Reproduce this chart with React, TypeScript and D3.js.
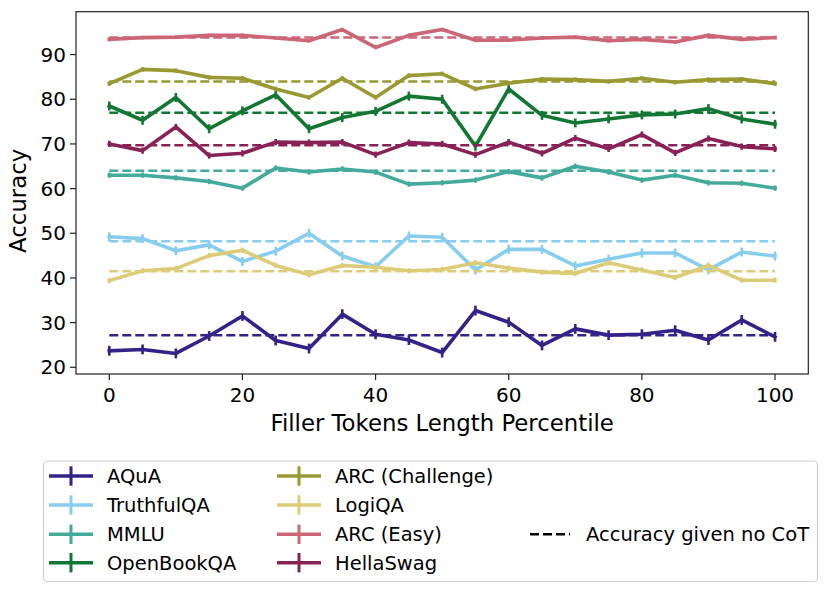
import React from 'react';
import * as d3 from 'd3';

// filler token length percentiles (x axis)
const percentiles = [0, 5, 10, 15, 20, 25, 30, 35, 40, 45, 50, 55, 60, 65, 70, 75, 80, 85, 90, 95, 100];

const aqua = [23.7, 24.0, 23.1, 27.0, 31.5, 26.0, 24.2, 31.9, 27.4, 26.1, 23.3, 32.7, 30.1, 24.9, 28.6, 27.2, 27.4, 28.3, 26.1, 30.6, 26.8];
const truthfulQA = [49.2, 48.8, 46.1, 47.4, 43.7, 46.0, 50.0, 44.9, 42.5, 49.4, 49.1, 41.8, 46.4, 46.4, 42.7, 44.2, 45.6, 45.6, 41.8, 45.8, 44.9];
const mmlu = [63.0, 63.0, 62.4, 61.6, 60.1, 64.6, 63.7, 64.4, 63.7, 61.0, 61.3, 61.9, 63.8, 62.4, 65.0, 63.7, 61.9, 63.0, 61.3, 61.2, 60.1];
const openBookQA = [78.5, 75.3, 80.4, 73.4, 77.4, 81.0, 73.4, 75.9, 77.3, 80.7, 80.0, 69.5, 82.3, 76.4, 74.7, 75.6, 76.5, 76.7, 77.9, 75.6, 74.4];
const arcChallenge = [83.5, 86.7, 86.4, 84.9, 84.7, 82.3, 80.4, 84.7, 80.4, 85.3, 85.7, 82.3, 83.6, 84.5, 84.4, 84.0, 84.7, 83.8, 84.4, 84.5, 83.5];
const logiQA = [39.4, 41.6, 42.1, 45.0, 46.2, 42.8, 40.7, 42.8, 42.4, 41.6, 41.9, 43.4, 42.2, 41.3, 41.0, 43.4, 41.8, 40.1, 42.8, 39.5, 39.5];
const arcEasy = [93.4, 93.8, 93.9, 94.3, 94.3, 93.7, 93.1, 95.6, 91.6, 94.3, 95.6, 93.2, 93.2, 93.7, 93.9, 93.1, 93.4, 92.8, 94.3, 93.4, 93.8];
const hellaSwag = [70.0, 68.5, 73.8, 67.4, 67.9, 70.4, 70.3, 70.4, 67.6, 70.3, 70.0, 67.6, 70.4, 67.9, 71.3, 68.9, 72.1, 68.0, 71.2, 69.4, 68.9];

// accuracy without chain of thought (dashed lines)
const noCoT = [27.2, 48.2, 64.0, 77.0, 84.0, 41.5, 93.8, 69.7];
// half length of the error bars
const errHalf = [1.1, 1.0, 0.6, 1.0, 0.5, 0.6, 0.4, 0.7];

const names = ['AQuA', 'TruthfulQA', 'MMLU', 'OpenBookQA', 'ARC (Challenge)', 'LogiQA', 'ARC (Easy)', 'HellaSwag'];
const seriesValues = [aqua, truthfulQA, mmlu, openBookQA, arcChallenge, logiQA, arcEasy, hellaSwag];
const colors = ['#332288', '#88CCEE', '#44AA99', '#117733', '#999933', '#DDCC77', '#CC6677', '#882255'];

const xTicks = [0, 20, 40, 60, 80, 100];
const yTicks = [20, 30, 40, 50, 60, 70, 80, 90];

const W = 830, H = 594;
const plot = { left: 76, right: 808.3, top: 11.7, bottom: 374 };
const FONT = 'DejaVu Sans, sans-serif';

export default function App() {
  const x = d3.scaleLinear().domain([-5, 105]).range([plot.left, plot.right]);
  const y = d3.scaleLinear().domain([18.5, 99.6]).range([plot.bottom, plot.top]);
  const line = d3.line<number>()
    .x((_, i) => x(percentiles[i]))
    .y(d => y(d));

  // legend layout
  const rowY = [476, 505, 534.3, 562.7];
  const cols = [{ h0: 49, h1: 93, t: 107 }, { h0: 277, h1: 321, t: 335 }];

  return (
    <svg width={W} height={H} style={{ position: 'absolute', left: 0, top: 0, background: '#fff' }}
      fontFamily={FONT}>
      <rect x={0} y={0} width={W} height={H} fill="#fff" />
      <g>
        {seriesValues.map((vals, s) => (
          <g key={names[s]}>
            <path d={line(vals) || ''} fill="none" stroke={colors[s]} strokeWidth={3.6}
              strokeLinejoin="round" strokeLinecap="square" />
            {vals.map((v, i) => (
              <line key={i} x1={x(percentiles[i])} x2={x(percentiles[i])}
                y1={y(v - errHalf[s])} y2={y(v + errHalf[s])}
                stroke={colors[s]} strokeWidth={2.6} />
            ))}
            <line x1={x(0)} x2={x(100)} y1={y(noCoT[s])} y2={y(noCoT[s])}
              stroke={colors[s]} strokeWidth={2.5} strokeDasharray="9,4" />
          </g>
        ))}
      </g>

      {/* axes */}
      <rect x={plot.left} y={plot.top} width={plot.right - plot.left} height={plot.bottom - plot.top}
        fill="none" stroke="#222" strokeWidth={1.2} />
      {xTicks.map(t => (
        <g key={t}>
          <line x1={x(t)} x2={x(t)} y1={plot.bottom} y2={plot.bottom + 6} stroke="#222" strokeWidth={1.2} />
          <text x={x(t)} y={402} textAnchor="middle" fontSize={20}>{t}</text>
        </g>
      ))}
      {yTicks.map(t => (
        <g key={t}>
          <line x1={plot.left - 6} x2={plot.left} y1={y(t)} y2={y(t)} stroke="#222" strokeWidth={1.2} />
          <text x={66} y={y(t) + 7.2} textAnchor="end" fontSize={20}>{t}</text>
        </g>
      ))}
      <text x={(plot.left + plot.right) / 2} y={431} textAnchor="middle" fontSize={22.8}>
        Filler Tokens Length Percentile
      </text>
      <text transform={`translate(25.5,${(plot.top + plot.bottom) / 2 + 8}) rotate(-90)`} textAnchor="middle"
        fontSize={22.8}>Accuracy</text>

      {/* legend */}
      <rect x={43.5} y={461} width={774} height={120.5} rx={4} fill="#fff" stroke="#d0d0d0" strokeWidth={1.2} />
      {names.map((n, s) => {
        const c = cols[Math.floor(s / 4)];
        const ry = rowY[s % 4];
        const mid = (c.h0 + c.h1) / 2;
        return (
          <g key={n}>
            <line x1={c.h0} x2={c.h1} y1={ry} y2={ry} stroke={colors[s]} strokeWidth={3.6} />
            <line x1={mid} x2={mid} y1={ry - 9.7} y2={ry + 9.7} stroke={colors[s]} strokeWidth={3} />
            <text x={c.t} y={ry + 7} fontSize={19.5}>{n}</text>
          </g>
        );
      })}
      <line x1={530} x2={570} y1={rowY[2]} y2={rowY[2]} stroke="#000" strokeWidth={2.5} strokeDasharray="9,4" />
      <text x={586} y={rowY[2] + 7} fontSize={19.5}>Accuracy given no CoT</text>
    </svg>
  );
}
